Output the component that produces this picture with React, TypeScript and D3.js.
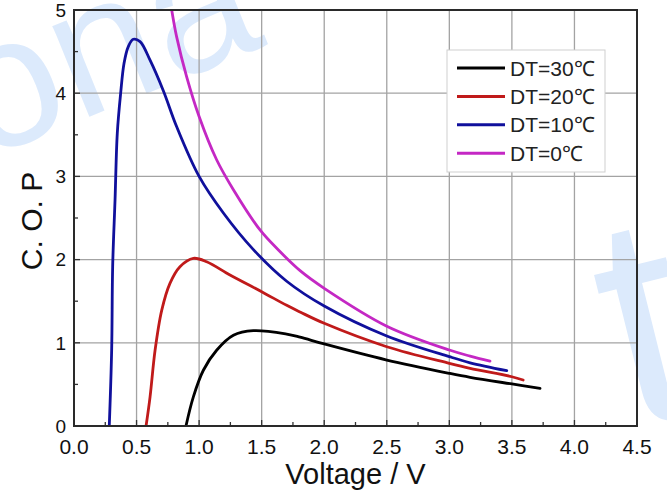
import React from "react";
import * as d3 from "d3";

// Voltage (V) and C.O.P values, one pair of arrays per curve
const v30 = [0.895, 0.954, 1.034, 1.14, 1.274, 1.433, 1.7, 1.807, 2.0, 2.5, 3.0, 3.166, 3.5, 3.725];
const cop30 = [0, 0.35, 0.67, 0.91, 1.09, 1.146, 1.105, 1.068, 0.986, 0.793, 0.633, 0.585, 0.505, 0.453];

const v20 = [0.576, 0.608, 0.648, 0.701, 0.767, 0.847, 0.954, 1.06, 1.247, 1.5, 1.7, 1.807, 2.0, 2.5, 3.0, 3.166, 3.5, 3.59];
const cop20 = [0, 0.35, 0.91, 1.39, 1.715, 1.915, 2.015, 1.975, 1.815, 1.614, 1.45, 1.37, 1.234, 0.953, 0.753, 0.693, 0.592, 0.553];

const v10 = [0.282, 0.301, 0.309, 0.328, 0.346, 0.373, 0.4, 0.434, 0.474, 0.528, 0.607, 0.714, 0.82, 1.0, 1.194, 1.434, 1.7, 2.0, 2.5, 3.0, 3.166, 3.459];
const cop10 = [0, 0.91, 1.915, 2.716, 3.518, 4.0, 4.36, 4.56, 4.648, 4.62, 4.4, 4.03, 3.6, 3.0, 2.56, 2.12, 1.74, 1.442, 1.082, 0.833, 0.76, 0.665];

const v0 = [0.781, 0.82, 0.9, 1.0, 1.14, 1.274, 1.487, 1.634, 1.807, 2.0, 2.5, 3.0, 3.166, 3.325];
const cop0 = [5.0, 4.68, 4.2, 3.72, 3.2, 2.84, 2.356, 2.115, 1.867, 1.655, 1.2, 0.913, 0.84, 0.78];

const seriesNames = ["DT=30℃", "DT=20℃", "DT=10℃", "DT=0℃"];
const seriesColors = ["#000000", "#c01a1a", "#10109c", "#c428c4"];

const xTicks = [0, 0.5, 1, 1.5, 2, 2.5, 3, 3.5, 4, 4.5];
const yTicks = [0, 1, 2, 3, 4, 5];

const W = 667;
const H = 495;
const left = 74;
const right = 637;
const top = 10;
const bottom = 426;
const font = "'Liberation Sans', Arial, sans-serif";

const App = () => {
  const x = d3.scaleLinear().domain([0, 4.5]).range([left, right]);
  const y = d3.scaleLinear().domain([0, 5]).range([bottom, top]);

  const curves = [
    { v: v30, c: cop30 },
    { v: v20, c: cop20 },
    { v: v10, c: cop10 },
    { v: v0, c: cop0 },
  ];

  const line = d3
    .line<[number, number]>()
    .x((d) => x(d[0]))
    .y((d) => y(d[1]))
    .curve(d3.curveCatmullRom.alpha(0.5));

  const xMinor = d3.range(0.25, 4.5, 0.5);
  const yMinor = d3.range(0.5, 5, 1);

  return (
    <svg
      width={W}
      height={H}
      style={{ position: "absolute", left: 0, top: 0, background: "#fff" }}
    >
      {/* faint watermark */}
      <g fill="#dceafc" fontFamily={font}>
        <text fontSize={185} transform="translate(-18,160) rotate(-22)">ona</text>
        <text fontSize={300} transform="translate(628,430) rotate(-14)">t</text>
      </g>

      <defs>
        <clipPath id="plot">
          <rect x={left} y={top} width={right - left} height={bottom - top} />
        </clipPath>
      </defs>

      {/* grid */}
      <g stroke="#a3a3a3" strokeWidth={1.3}>
        {xTicks.slice(1, -1).map((t) => (
          <line key={"gx" + t} x1={x(t)} x2={x(t)} y1={top} y2={bottom} />
        ))}
        {yTicks.slice(1, -1).map((t) => (
          <line key={"gy" + t} x1={left} x2={right} y1={y(t)} y2={y(t)} />
        ))}
      </g>

      {/* ticks, pointing inward */}
      <g stroke="#333" strokeWidth={1.3}>
        {xTicks.map((t) => (
          <line key={"tx" + t} x1={x(t)} x2={x(t)} y1={bottom} y2={bottom - 6} />
        ))}
        {xMinor.map((t) => (
          <line key={"mx" + t} x1={x(t)} x2={x(t)} y1={bottom} y2={bottom - 4} />
        ))}
        {yTicks.map((t) => (
          <line key={"ty" + t} x1={left} x2={left + 6} y1={y(t)} y2={y(t)} />
        ))}
        {yMinor.map((t) => (
          <line key={"my" + t} x1={left} x2={left + 4} y1={y(t)} y2={y(t)} />
        ))}
      </g>

      {/* curves */}
      <g clipPath="url(#plot)" fill="none" strokeWidth={2.8} strokeLinecap="round">
        {curves.map((s, i) => (
          <path
            key={seriesNames[i]}
            d={line(s.v.map((v, j) => [v, s.c[j]] as [number, number])) || ""}
            stroke={seriesColors[i]}
          />
        ))}
      </g>

      {/* frame */}
      <rect
        x={left}
        y={top}
        width={right - left}
        height={bottom - top}
        fill="none"
        stroke="#2a2a2a"
        strokeWidth={2}
      />

      {/* tick labels */}
      <g fontFamily={font} fontSize={21} fill="#111" textAnchor="middle">
        {xTicks.map((t) => (
          <text key={"lx" + t} x={x(t)} y={454}>
            {d3.format(".1f")(t)}
          </text>
        ))}
      </g>
      <g fontFamily={font} fontSize={19} fill="#111" textAnchor="end">
        {yTicks.map((t) => (
          <text key={"ly" + t} x={66} y={y(t)} dy="0.36em">
            {t}
          </text>
        ))}
      </g>

      {/* axis titles */}
      <text
        x={(left + right) / 2}
        y={484}
        textAnchor="middle"
        fontFamily={font}
        fontSize={29}
        fill="#111"
      >
        Voltage / V
      </text>
      <text
        transform={`translate(42,221) rotate(-90)`}
        textAnchor="middle"
        fontFamily={font}
        fontSize={30}
        fill="#111"
      >
        C. O. P
      </text>

      {/* legend */}
      <g>
        <rect x={447} y={50} width={158} height={122} fill="#fff" stroke="#cfcfcf" strokeWidth={1} />
        {seriesNames.map((name, i) => {
          const ly = 68 + i * 28.4;
          return (
            <g key={name}>
              <line x1={457} x2={505} y1={ly} y2={ly} stroke={seriesColors[i]} strokeWidth={3} />
              <text x={510} y={ly} dy="0.36em" fontFamily={font} fontSize={21} fill="#222">
                {name}
              </text>
            </g>
          );
        })}
      </g>
    </svg>
  );
};

export default App;
